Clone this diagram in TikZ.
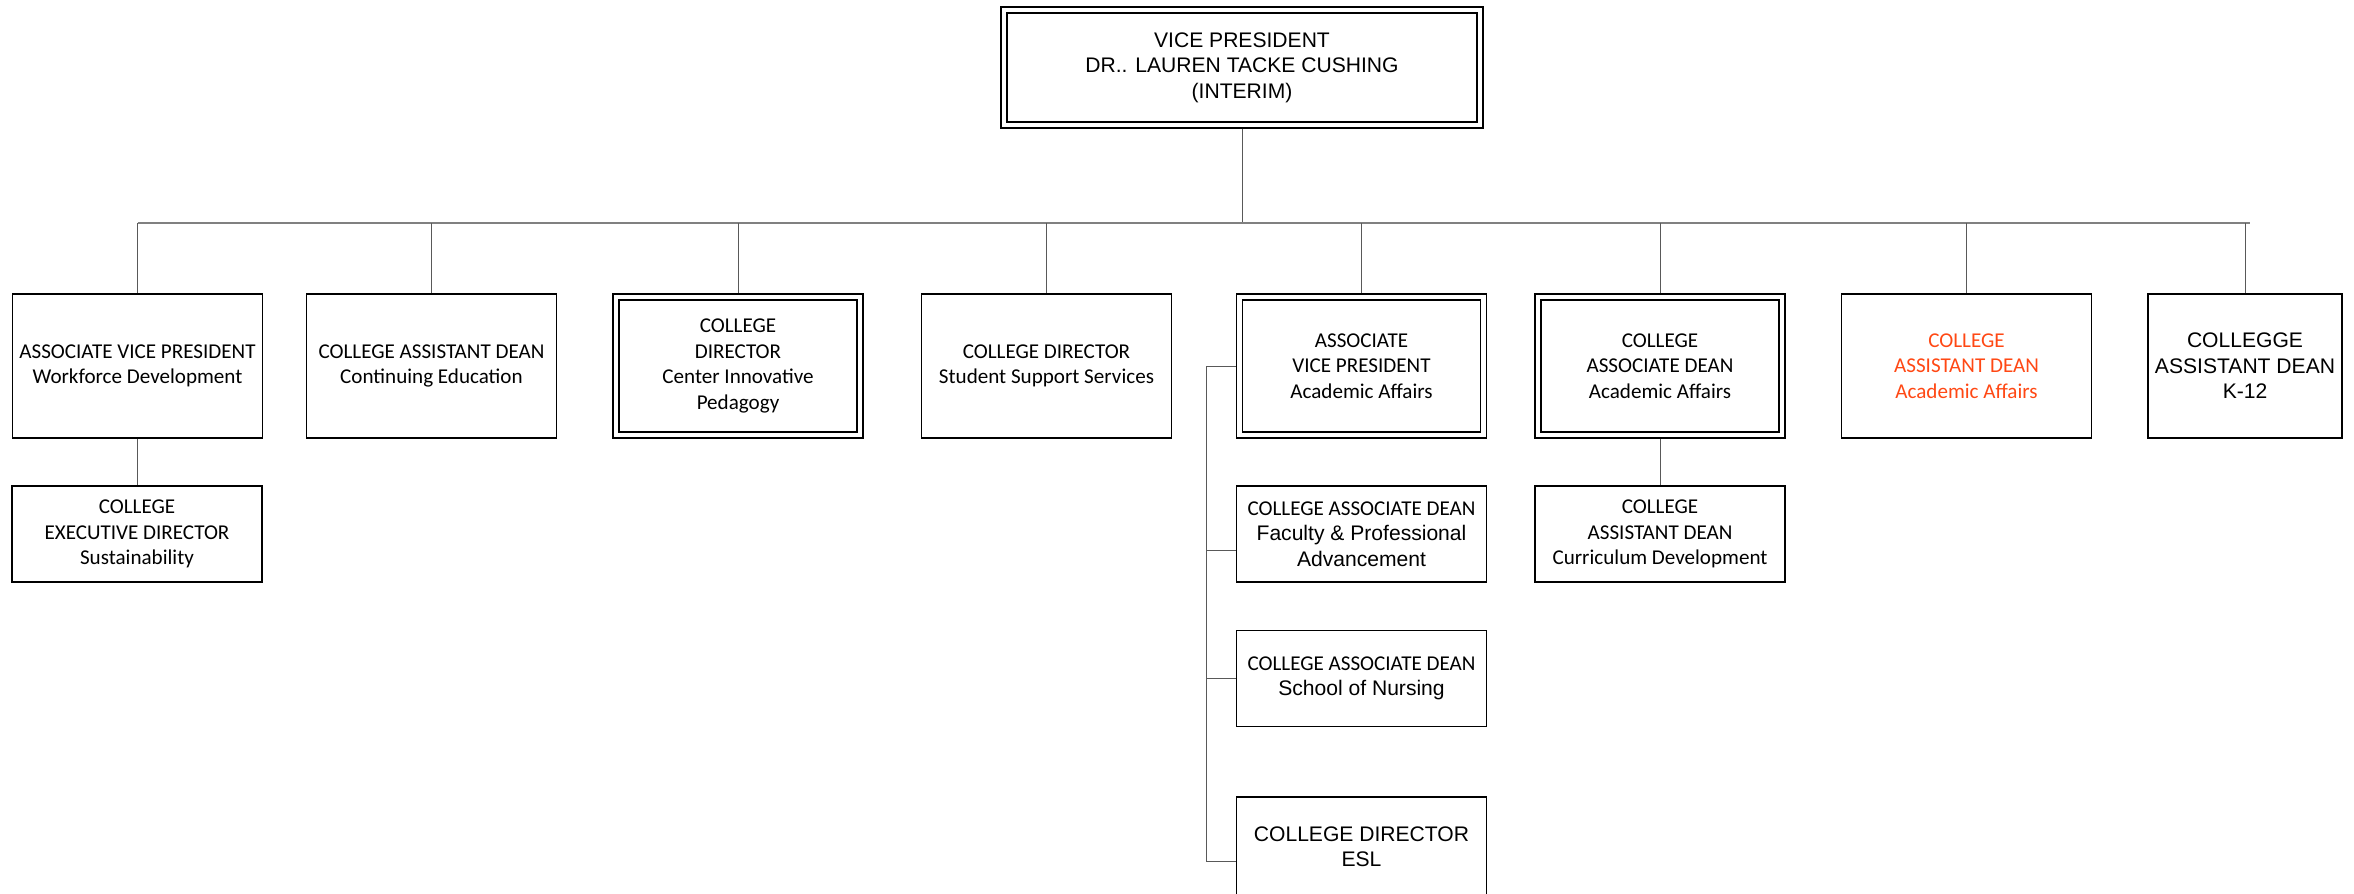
\documentclass[tikz,border=0pt]{standalone}
\usepackage{fontspec}
\setmainfont{Carlito}
\newfontfamily\arialfont{Liberation Sans}
\usepackage{xcolor}
\usetikzlibrary{calc}
\definecolor{alertred}{RGB}{255,72,20}

\begin{document}
\begin{tikzpicture}[
	box/.style={draw=black, line width=.85pt, align=center, inner sep=2pt, minimum width=5cm, minimum height=2.88cm, font=\fontsize{12}{14.5}\selectfont},
	dblbox/.style={box, line width=1.1pt, path picture={\draw[line width=.6pt] ([shift={(.12,.12)}]path picture bounding box.south west) rectangle ([shift={(-.12,-.12)}]path picture bounding box.north east);}},
	subbox/.style={box, minimum height=1.92cm},
	arial/.style={font=\arialfont\fontsize{12}{14.5}\selectfont},
	conn/.style={draw=black!65, line width=.5pt},
	bus/.style={draw=black!50, line width=.9pt}]

	% page
	\useasboundingbox (0,0) rectangle (47.08,17.88);
	\clip (0,0) rectangle (47.08,17.88);

	% Vice president
	\node[dblbox, minimum width=9.64cm, minimum height=2.42cm, arial] (vp) at (24.84,16.53) {VICE PRESIDENT\\DR.. LAUREN TACKE CUSHING\\(INTERIM)};

	% first row
	\node[box] (avpwd) at (2.75,10.56) {ASSOCIATE VICE PRESIDENT\\Workforce Development};
	\node[box] (cadce) at (8.63,10.56) {COLLEGE ASSISTANT DEAN\\Continuing Education};
	\node[dblbox] (cdcip) at (14.76,10.56) {COLLEGE\\DIRECTOR\\Center Innovative\\Pedagogy};
	\node[box] (cdsss) at (20.93,10.56) {COLLEGE DIRECTOR\\Student Support Services};
	\node[dblbox] (avpaa) at (27.23,10.56) {ASSOCIATE\\VICE PRESIDENT\\Academic Affairs};
	\node[dblbox] (cadaa) at (33.2,10.56) {COLLEGE\\ASSOCIATE DEAN\\Academic Affairs};
	\node[box, text=alertred] (casaa) at (39.33,10.56) {COLLEGE\\ASSISTANT DEAN\\Academic Affairs};
	\node[box, arial, minimum width=3.88cm] (cask) at (44.9,10.56) {COLLEGGE\\ASSISTANT DEAN\\K-12};

	% second row
	\node[subbox] (cedsus) at (2.74,7.2) {COLLEGE\\EXECUTIVE DIRECTOR\\Sustainability};
	\node[subbox] (cadfpa) at (27.23,7.2) {COLLEGE ASSOCIATE DEAN\\\arialfont Faculty \& Professional\\\arialfont Advancement};
	\node[subbox] (cadsn) at (27.23,4.31) {COLLEGE ASSOCIATE DEAN\\\arialfont School of Nursing};
	\node[subbox, arial, minimum height=2cm] (cdesl) at (27.23,0.94) {COLLEGE DIRECTOR\\ESL};
	\node[subbox] (casdcd) at (33.2,7.2) {COLLEGE\\ASSISTANT DEAN\\Curriculum Development};

	% bus
	\coordinate (bus) at (24.84,13.42);
	\draw[conn] (vp.south) -- (vp.south |- bus);
	\draw[bus] (avpwd.north |- bus) -- ([xshift=.1cm]cask.north |- bus);
	\foreach \n in {avpwd,cadce,cdcip,cdsss,avpaa,cadaa,casaa,cask}
		\draw[conn] (\n.north) -- (\n.north |- bus);

	% sub branches
	\draw[conn] (avpwd.south) -- (avpwd.south |- cedsus.north);
	\draw[conn] (cadaa.south) -- (cadaa.south |- casdcd.north);

	% academic affairs rail
	\coordinate (rail) at (24.12,0.66);
	\coordinate (fpalink) at ([yshift=-.32cm]cadfpa.west);
	\draw[conn] (avpaa.west) -| (rail) -- (rail -| cdesl.west);
	\draw[conn] (fpalink -| rail) -- (fpalink);
	\draw[conn] (rail |- cadsn.west) -- (cadsn.west);

\end{tikzpicture}
\end{document}
